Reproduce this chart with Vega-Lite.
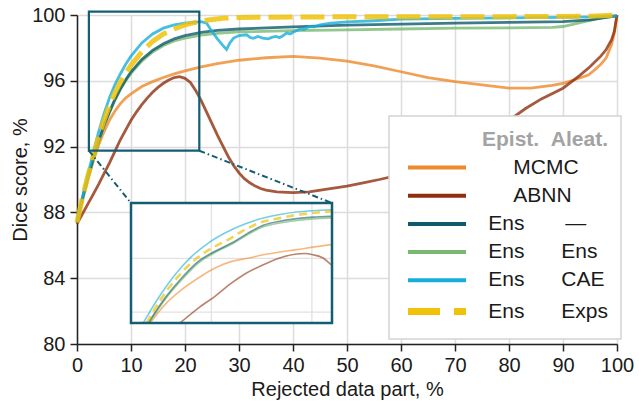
{
  "$schema": "https://vega.github.io/schema/vega-lite/v6.json",
  "width": 540,
  "height": 329,
  "autosize": "none",
  "padding": {"left": 77, "top": 15, "right": 22, "bottom": 62},
  "background": "white",
  "datasets": {
    "main": [
      {"s":"MCMC","x":0,"y":87.3},{"s":"MCMC","x":1,"y":88.7},{"s":"MCMC","x":2,"y":90.0},{"s":"MCMC","x":3,"y":91.1},{"s":"MCMC","x":4,"y":92.1},{"s":"MCMC","x":5,"y":92.9},{"s":"MCMC","x":6,"y":93.6},{"s":"MCMC","x":7,"y":94.15},{"s":"MCMC","x":8,"y":94.6},{"s":"MCMC","x":9,"y":94.95},{"s":"MCMC","x":10,"y":95.2},{"s":"MCMC","x":12,"y":95.65},{"s":"MCMC","x":14,"y":95.95},{"s":"MCMC","x":16,"y":96.2},{"s":"MCMC","x":18,"y":96.42},{"s":"MCMC","x":20,"y":96.6},{"s":"MCMC","x":23,"y":96.85},{"s":"MCMC","x":26,"y":97.05},{"s":"MCMC","x":30,"y":97.25},{"s":"MCMC","x":35,"y":97.4},{"s":"MCMC","x":40,"y":97.48},{"s":"MCMC","x":45,"y":97.38},{"s":"MCMC","x":50,"y":97.2},{"s":"MCMC","x":55,"y":96.9},{"s":"MCMC","x":60,"y":96.55},{"s":"MCMC","x":65,"y":96.2},{"s":"MCMC","x":70,"y":95.95},{"s":"MCMC","x":75,"y":95.75},{"s":"MCMC","x":80,"y":95.55},{"s":"MCMC","x":84,"y":95.55},{"s":"MCMC","x":88,"y":95.72},{"s":"MCMC","x":90,"y":95.85},{"s":"MCMC","x":92,"y":96.05},{"s":"MCMC","x":94.7,"y":96.35},{"s":"MCMC","x":96,"y":96.7},{"s":"MCMC","x":97,"y":97.0},{"s":"MCMC","x":98,"y":97.4},{"s":"MCMC","x":99,"y":98.2},{"s":"MCMC","x":99.5,"y":98.9},{"s":"MCMC","x":100,"y":100},
      {"s":"ABNN","x":0,"y":87.3},{"s":"ABNN","x":1,"y":87.9},{"s":"ABNN","x":2,"y":88.5},{"s":"ABNN","x":3,"y":89.1},{"s":"ABNN","x":4,"y":89.7},{"s":"ABNN","x":5,"y":90.35},{"s":"ABNN","x":6,"y":91.0},{"s":"ABNN","x":7,"y":91.7},{"s":"ABNN","x":8,"y":92.4},{"s":"ABNN","x":9,"y":93.0},{"s":"ABNN","x":10,"y":93.6},{"s":"ABNN","x":11,"y":94.1},{"s":"ABNN","x":12,"y":94.55},{"s":"ABNN","x":13,"y":94.95},{"s":"ABNN","x":14,"y":95.3},{"s":"ABNN","x":15,"y":95.6},{"s":"ABNN","x":16,"y":95.85},{"s":"ABNN","x":17,"y":96.05},{"s":"ABNN","x":18,"y":96.2},{"s":"ABNN","x":19,"y":96.25},{"s":"ABNN","x":20,"y":96.15},{"s":"ABNN","x":21,"y":95.9},{"s":"ABNN","x":22,"y":95.4},{"s":"ABNN","x":23,"y":94.8},{"s":"ABNN","x":24,"y":94.1},{"s":"ABNN","x":25,"y":93.4},{"s":"ABNN","x":26,"y":92.7},{"s":"ABNN","x":27,"y":92.05},{"s":"ABNN","x":28,"y":91.4},{"s":"ABNN","x":29,"y":90.85},{"s":"ABNN","x":30,"y":90.4},{"s":"ABNN","x":31,"y":90.05},{"s":"ABNN","x":32,"y":89.8},{"s":"ABNN","x":33,"y":89.6},{"s":"ABNN","x":34,"y":89.45},{"s":"ABNN","x":35,"y":89.35},{"s":"ABNN","x":37,"y":89.25},{"s":"ABNN","x":40,"y":89.2},{"s":"ABNN","x":43,"y":89.25},{"s":"ABNN","x":46,"y":89.4},{"s":"ABNN","x":50,"y":89.6},{"s":"ABNN","x":53,"y":89.8},{"s":"ABNN","x":56,"y":90.0},{"s":"ABNN","x":60,"y":90.3},{"s":"ABNN","x":65,"y":90.8},{"s":"ABNN","x":70,"y":91.5},{"s":"ABNN","x":75,"y":92.4},{"s":"ABNN","x":80,"y":93.6},{"s":"ABNN","x":83,"y":94.3},{"s":"ABNN","x":86,"y":94.9},{"s":"ABNN","x":90,"y":95.55},{"s":"ABNN","x":93,"y":96.3},{"s":"ABNN","x":95,"y":96.85},{"s":"ABNN","x":97,"y":97.5},{"s":"ABNN","x":98,"y":97.9},{"s":"ABNN","x":99,"y":98.5},{"s":"ABNN","x":99.5,"y":99.0},{"s":"ABNN","x":100,"y":100},
      {"s":"Ens Ens","x":0,"y":87.4},{"s":"Ens Ens","x":1,"y":88.8},{"s":"Ens Ens","x":2,"y":90.05},{"s":"Ens Ens","x":3,"y":91.2},{"s":"Ens Ens","x":4,"y":92.3},{"s":"Ens Ens","x":5,"y":93.25},{"s":"Ens Ens","x":6,"y":94.05},{"s":"Ens Ens","x":7,"y":94.8},{"s":"Ens Ens","x":8,"y":95.45},{"s":"Ens Ens","x":9,"y":96.0},{"s":"Ens Ens","x":10,"y":96.45},{"s":"Ens Ens","x":12,"y":97.2},{"s":"Ens Ens","x":14,"y":97.75},{"s":"Ens Ens","x":16,"y":98.15},{"s":"Ens Ens","x":18,"y":98.42},{"s":"Ens Ens","x":20,"y":98.6},{"s":"Ens Ens","x":23,"y":98.78},{"s":"Ens Ens","x":26,"y":98.88},{"s":"Ens Ens","x":30,"y":98.97},{"s":"Ens Ens","x":40,"y":99.05},{"s":"Ens Ens","x":50,"y":99.1},{"s":"Ens Ens","x":60,"y":99.15},{"s":"Ens Ens","x":70,"y":99.2},{"s":"Ens Ens","x":80,"y":99.22},{"s":"Ens Ens","x":88,"y":99.25},{"s":"Ens Ens","x":90,"y":99.3},{"s":"Ens Ens","x":92,"y":99.45},{"s":"Ens Ens","x":94,"y":99.6},{"s":"Ens Ens","x":96,"y":99.75},{"s":"Ens Ens","x":98,"y":99.88},{"s":"Ens Ens","x":100,"y":99.95},
      {"s":"Ens —","x":0,"y":87.4},{"s":"Ens —","x":1,"y":88.85},{"s":"Ens —","x":2,"y":90.1},{"s":"Ens —","x":3,"y":91.25},{"s":"Ens —","x":4,"y":92.35},{"s":"Ens —","x":5,"y":93.3},{"s":"Ens —","x":6,"y":94.1},{"s":"Ens —","x":7,"y":94.85},{"s":"Ens —","x":8,"y":95.5},{"s":"Ens —","x":9,"y":96.05},{"s":"Ens —","x":10,"y":96.55},{"s":"Ens —","x":12,"y":97.3},{"s":"Ens —","x":14,"y":97.85},{"s":"Ens —","x":16,"y":98.25},{"s":"Ens —","x":18,"y":98.55},{"s":"Ens —","x":20,"y":98.75},{"s":"Ens —","x":23,"y":98.95},{"s":"Ens —","x":26,"y":99.07},{"s":"Ens —","x":30,"y":99.15},{"s":"Ens —","x":40,"y":99.28},{"s":"Ens —","x":50,"y":99.38},{"s":"Ens —","x":60,"y":99.45},{"s":"Ens —","x":70,"y":99.5},{"s":"Ens —","x":80,"y":99.55},{"s":"Ens —","x":90,"y":99.6},{"s":"Ens —","x":95,"y":99.7},{"s":"Ens —","x":100,"y":99.95},
      {"s":"Ens CAE","x":0,"y":87.4},{"s":"Ens CAE","x":1,"y":88.9},{"s":"Ens CAE","x":2,"y":90.3},{"s":"Ens CAE","x":3,"y":91.6},{"s":"Ens CAE","x":4,"y":92.9},{"s":"Ens CAE","x":5,"y":94.0},{"s":"Ens CAE","x":6,"y":94.95},{"s":"Ens CAE","x":7,"y":95.75},{"s":"Ens CAE","x":8,"y":96.4},{"s":"Ens CAE","x":9,"y":97.0},{"s":"Ens CAE","x":10,"y":97.5},{"s":"Ens CAE","x":12,"y":98.3},{"s":"Ens CAE","x":14,"y":98.85},{"s":"Ens CAE","x":16,"y":99.2},{"s":"Ens CAE","x":18,"y":99.4},{"s":"Ens CAE","x":20,"y":99.5},{"s":"Ens CAE","x":22,"y":99.57},{"s":"Ens CAE","x":23,"y":99.6},{"s":"Ens CAE","x":24,"y":99.5},{"s":"Ens CAE","x":25,"y":99.0},{"s":"Ens CAE","x":26,"y":98.55},{"s":"Ens CAE","x":27,"y":98.15},{"s":"Ens CAE","x":27.7,"y":97.9},{"s":"Ens CAE","x":28.3,"y":98.3},{"s":"Ens CAE","x":29,"y":98.6},{"s":"Ens CAE","x":30,"y":98.75},{"s":"Ens CAE","x":31.4,"y":98.8},{"s":"Ens CAE","x":32,"y":98.65},{"s":"Ens CAE","x":32.6,"y":98.58},{"s":"Ens CAE","x":33.5,"y":98.7},{"s":"Ens CAE","x":34.4,"y":98.6},{"s":"Ens CAE","x":35.4,"y":98.55},{"s":"Ens CAE","x":36.2,"y":98.65},{"s":"Ens CAE","x":36.9,"y":98.7},{"s":"Ens CAE","x":37.5,"y":98.62},{"s":"Ens CAE","x":38.2,"y":98.75},{"s":"Ens CAE","x":38.8,"y":98.9},{"s":"Ens CAE","x":39.5,"y":98.85},{"s":"Ens CAE","x":40,"y":98.95},{"s":"Ens CAE","x":41.3,"y":99.15},{"s":"Ens CAE","x":42,"y":99.12},{"s":"Ens CAE","x":43,"y":99.3},{"s":"Ens CAE","x":44,"y":99.28},{"s":"Ens CAE","x":45,"y":99.4},{"s":"Ens CAE","x":47,"y":99.5},{"s":"Ens CAE","x":50,"y":99.58},{"s":"Ens CAE","x":55,"y":99.65},{"s":"Ens CAE","x":60,"y":99.75},{"s":"Ens CAE","x":70,"y":99.8},{"s":"Ens CAE","x":80,"y":99.83},{"s":"Ens CAE","x":90,"y":99.85},{"s":"Ens CAE","x":95,"y":99.88},{"s":"Ens CAE","x":100,"y":99.95},
      {"s":"Ens Exps","x":0,"y":87.4},{"s":"Ens Exps","x":1,"y":88.9},{"s":"Ens Exps","x":2,"y":90.2},{"s":"Ens Exps","x":3,"y":91.4},{"s":"Ens Exps","x":4,"y":92.6},{"s":"Ens Exps","x":5,"y":93.6},{"s":"Ens Exps","x":6,"y":94.5},{"s":"Ens Exps","x":7,"y":95.25},{"s":"Ens Exps","x":8,"y":95.9},{"s":"Ens Exps","x":9,"y":96.45},{"s":"Ens Exps","x":10,"y":96.95},{"s":"Ens Exps","x":12,"y":97.75},{"s":"Ens Exps","x":14,"y":98.4},{"s":"Ens Exps","x":16,"y":98.85},{"s":"Ens Exps","x":18,"y":99.15},{"s":"Ens Exps","x":20,"y":99.4},{"s":"Ens Exps","x":22,"y":99.55},{"s":"Ens Exps","x":24,"y":99.68},{"s":"Ens Exps","x":27,"y":99.8},{"s":"Ens Exps","x":30,"y":99.85},{"s":"Ens Exps","x":40,"y":99.88},{"s":"Ens Exps","x":60,"y":99.9},{"s":"Ens Exps","x":80,"y":99.9},{"s":"Ens Exps","x":95,"y":99.92},{"s":"Ens Exps","x":100,"y":100}
    ],
    "inset": [
      {"s":"MCMC","x":3.89,"y":91.2},{"s":"MCMC","x":5.38,"y":92.56},{"s":"MCMC","x":7.04,"y":93.67},{"s":"MCMC","x":8.7,"y":94.54},{"s":"MCMC","x":10.36,"y":95.28},{"s":"MCMC","x":12.02,"y":95.77},{"s":"MCMC","x":13.6,"y":96.0},{"s":"MCMC","x":15.16,"y":96.26},{"s":"MCMC","x":16.8,"y":96.46},{"s":"MCMC","x":18.5,"y":96.64},{"s":"MCMC","x":20.1,"y":96.83},{"s":"MCMC","x":21.9,"y":97.01},
      {"s":"ABNN","x":6.88,"y":91.2},{"s":"ABNN","x":8.7,"y":92.31},{"s":"ABNN","x":10.36,"y":93.18},{"s":"ABNN","x":12.02,"y":94.17},{"s":"ABNN","x":13.5,"y":94.91},{"s":"ABNN","x":15.16,"y":95.52},{"s":"ABNN","x":16.8,"y":96.02},{"s":"ABNN","x":18.5,"y":96.32},{"s":"ABNN","x":19.3,"y":96.35},{"s":"ABNN","x":20.1,"y":96.26},{"s":"ABNN","x":21.1,"y":96.02},{"s":"ABNN","x":21.9,"y":95.52},
      {"s":"Ens Ens","x":3.8,"y":91.2},{"s":"Ens Ens","x":5.45,"y":93.0},{"s":"Ens Ens","x":7.1,"y":94.45},{"s":"Ens Ens","x":8.75,"y":95.68},{"s":"Ens Ens","x":10.4,"y":96.45},{"s":"Ens Ens","x":12.05,"y":97.05},{"s":"Ens Ens","x":13.6,"y":97.75},{"s":"Ens Ens","x":15.16,"y":98.33},{"s":"Ens Ens","x":16.8,"y":98.62},{"s":"Ens Ens","x":18.5,"y":98.8},{"s":"Ens Ens","x":20.1,"y":98.92},{"s":"Ens Ens","x":21.9,"y":99.0},
      {"s":"Ens —","x":3.72,"y":91.2},{"s":"Ens —","x":5.38,"y":93.05},{"s":"Ens —","x":7.04,"y":94.54},{"s":"Ens —","x":8.7,"y":95.77},{"s":"Ens —","x":10.36,"y":96.52},{"s":"Ens —","x":12.02,"y":97.13},{"s":"Ens —","x":13.6,"y":97.85},{"s":"Ens —","x":15.16,"y":98.45},{"s":"Ens —","x":16.8,"y":98.75},{"s":"Ens —","x":18.5,"y":98.94},{"s":"Ens —","x":20.1,"y":99.05},{"s":"Ens —","x":21.9,"y":99.12},
      {"s":"Ens CAE","x":3.22,"y":91.2},{"s":"Ens CAE","x":4.72,"y":93.05},{"s":"Ens CAE","x":6.38,"y":94.78},{"s":"Ens CAE","x":8.04,"y":96.14},{"s":"Ens CAE","x":9.69,"y":97.13},{"s":"Ens CAE","x":11.35,"y":97.87},{"s":"Ens CAE","x":13.2,"y":98.5},{"s":"Ens CAE","x":15.16,"y":98.99},{"s":"Ens CAE","x":16.8,"y":99.25},{"s":"Ens CAE","x":18.5,"y":99.43},{"s":"Ens CAE","x":20.1,"y":99.53},{"s":"Ens CAE","x":21.9,"y":99.6},
      {"s":"Ens Exps","x":3.56,"y":91.2},{"s":"Ens Exps","x":5.05,"y":93.05},{"s":"Ens Exps","x":6.7,"y":94.66},{"s":"Ens Exps","x":8.37,"y":95.9},{"s":"Ens Exps","x":10.03,"y":96.76},{"s":"Ens Exps","x":11.68,"y":97.38},{"s":"Ens Exps","x":13.4,"y":98.15},{"s":"Ens Exps","x":15.16,"y":98.72},{"s":"Ens Exps","x":16.8,"y":98.98},{"s":"Ens Exps","x":18.5,"y":99.22},{"s":"Ens Exps","x":20.1,"y":99.36},{"s":"Ens Exps","x":21.9,"y":99.48}
    ]
  },
  "layer": [
    {
      "data": {"name": "main"},
      "encoding": {
        "x": {"field": "x", "type": "quantitative",
              "scale": {"domain": [0, 100], "nice": false, "zero": false},
              "axis": {"title": "Rejected data part, %", "values": [0,10,20,30,40,50,60,70,80,90,100], "labelFlush": false, "labelPadding": 4, "titlePadding": 4}},
        "y": {"field": "y", "type": "quantitative",
              "scale": {"domain": [80, 100], "nice": false, "zero": false},
              "axis": {"title": "Dice score, %", "values": [80,84,88,92,96,100], "labelPadding": 5, "titlePadding": 1}}
      },
      "layer": [
        {"transform": [{"filter": "datum.s === 'MCMC'"}],
         "mark": {"type": "line", "strokeWidth": 2.8, "opacity": 0.8},
         "encoding": {"color": {"field": "s", "type": "nominal",
           "scale": {"domain": ["MCMC","ABNN","Ens —","Ens Ens","Ens CAE","Ens Exps"], "range": ["#ee8a2b","#8f2f0e","#0d5a6e","#79b96f","#17aedb","#f0c20a"]},
           "legend": {
             "orient": "none", "legendX": 312, "legendY": 101,
             "title": "Epist.\u00a0\u00a0Aleat.",
             "titleFont": "Liberation Sans", "titleFontSize": 21, "titleFontWeight": "bold", "titleColor": "#a3a3a3",
             "titleAnchor": "end", "titlePadding": 7,
             "labelFont": "Liberation Sans", "labelFontSize": 21, "labelColor": "#1a1a1a", "labelOffset": 65.3, "labelLimit": 400,
             "labelExpr": "datum.value === 'MCMC' ? 'MCMC' : datum.value === 'ABNN' ? 'ABNN' : datum.value === 'Ens —' ? 'Ens\u00a0\u00a0\u00a0\u00a0\u00a0\u00a0\u00a0—' : datum.value === 'Ens Ens' ? 'Ens\u00a0\u00a0\u00a0\u00a0\u00a0\u00a0\u200aEns' : datum.value === 'Ens CAE' ? 'Ens\u00a0\u00a0\u00a0\u00a0\u00a0\u00a0\u200aCAE' : 'Ens\u00a0\u00a0\u00a0\u00a0\u00a0\u00a0\u200aExps'",
             "symbolType": "M-4.5,0H53.5", "symbolSize": 4, "symbolStrokeWidth": 4, "symbolOpacity": 1,
             "rowPadding": 6.2, "padding": 13,
             "fillColor": "white", "strokeColor": "#d4d4d4",
             "encode": {
               "symbols": {"update": {
                 "strokeDash": {"signal": "datum.value === 'Ens Exps' ? [32, 14] : [1, 0]"},
                 "strokeWidth": {"signal": "datum.value === 'Ens Exps' ? 7 : 4"},
                 "opacity": {"value": 1}}},
               "labels": {"update": {
                 "dx": {"signal": "datum.value === 'MCMC' || datum.value === 'ABNN' ? 25 : 0"}}},
               "legend": {"update": {"strokeWidth": {"value": 1.5}}}
             }
           }}}},
        {"transform": [{"filter": "datum.s === 'ABNN'"}],
         "mark": {"type": "line", "strokeWidth": 2.8, "opacity": 0.8},
         "encoding": {"color": {"field": "s", "type": "nominal"}}},
        {"transform": [{"filter": "datum.s === 'Ens Ens'"}],
         "mark": {"type": "line", "strokeWidth": 2.8, "opacity": 0.8},
         "encoding": {"color": {"field": "s", "type": "nominal"}}},
        {"transform": [{"filter": "datum.s === 'Ens —'"}],
         "mark": {"type": "line", "strokeWidth": 2.8, "opacity": 0.8},
         "encoding": {"color": {"field": "s", "type": "nominal"}}},
        {"transform": [{"filter": "datum.s === 'Ens CAE'"}],
         "mark": {"type": "line", "strokeWidth": 2.8, "opacity": 0.8},
         "encoding": {"color": {"field": "s", "type": "nominal"}}},
        {"transform": [{"filter": "datum.s === 'Ens Exps'"}],
         "mark": {"type": "line", "strokeWidth": 5, "opacity": 0.85, "strokeDash": [24, 8]},
         "encoding": {"color": {"field": "s", "type": "nominal"}}},
        {"data": {"values": [{"x": 2.2, "x2": 22.65, "y": 91.75, "y2": 100.2}]},
         "mark": {"type": "rect", "filled": false, "stroke": "#135e72", "strokeWidth": 2.2},
         "encoding": {"x2": {"field": "x2"}, "y2": {"field": "y2"}}},
        {"data": {"values": [{"x": 2.2, "x2": 10.0, "y": 91.75, "y2": 88.57}, {"x": 22.65, "x2": 47.22, "y": 91.75, "y2": 88.57}]},
         "mark": {"type": "rule", "stroke": "#135e72", "strokeWidth": 2, "strokeDash": [6, 3, 1.5, 3]},
         "encoding": {"x2": {"field": "x2"}, "y2": {"field": "y2"}}}
      ]
    },
    {
      "encoding": {
        "x": {"field": "x", "type": "quantitative", "scale": {"domain": [2, 22], "range": [54, 255], "nice": false, "zero": false}, "axis": null},
        "y": {"field": "y", "type": "quantitative", "scale": {"domain": [91.2, 100.1], "range": [308, 188], "nice": false, "zero": false}, "axis": null}
      },
      "layer": [
        {"data": {"values": [{"x": 2, "x2": 22, "y": 91.2, "y2": 100.1}]},
         "mark": {"type": "rect", "fill": "white"},
         "encoding": {"x2": {"field": "x2"}, "y2": {"field": "y2"}}},
        {"data": {"values": [{"x": 10, "y": 91.2, "y2": 100.1}, {"x": 20, "y": 91.2, "y2": 100.1}]},
         "mark": {"type": "rule", "stroke": "#e2e2e2", "strokeWidth": 1.3},
         "encoding": {"y2": {"field": "y2"}}},
        {"data": {"values": [{"x": 2, "x2": 22, "y": 92}, {"x": 2, "x2": 22, "y": 96}]},
         "mark": {"type": "rule", "stroke": "#e2e2e2", "strokeWidth": 1.3},
         "encoding": {"x2": {"field": "x2"}}},
        {"data": {"name": "inset"}, "transform": [{"filter": "datum.s === 'MCMC'"}],
         "mark": {"type": "line", "stroke": "#ee8a2b", "strokeWidth": 1.6, "opacity": 0.6, "interpolate": "monotone"}, "encoding": {}},
        {"data": {"name": "inset"}, "transform": [{"filter": "datum.s === 'ABNN'"}],
         "mark": {"type": "line", "stroke": "#8f2f0e", "strokeWidth": 1.6, "opacity": 0.6, "interpolate": "monotone"}, "encoding": {}},
        {"data": {"name": "inset"}, "transform": [{"filter": "datum.s === 'Ens Ens'"}],
         "mark": {"type": "line", "stroke": "#79b96f", "strokeWidth": 1.6, "opacity": 0.7, "interpolate": "monotone"}, "encoding": {}},
        {"data": {"name": "inset"}, "transform": [{"filter": "datum.s === 'Ens —'"}],
         "mark": {"type": "line", "stroke": "#0d5a6e", "strokeWidth": 1.6, "opacity": 0.6, "interpolate": "monotone"}, "encoding": {}},
        {"data": {"name": "inset"}, "transform": [{"filter": "datum.s === 'Ens CAE'"}],
         "mark": {"type": "line", "stroke": "#17aedb", "strokeWidth": 1.6, "opacity": 0.6, "interpolate": "monotone"}, "encoding": {}},
        {"data": {"name": "inset"}, "transform": [{"filter": "datum.s === 'Ens Exps'"}],
         "mark": {"type": "line", "stroke": "#f0c20a", "strokeWidth": 2.6, "opacity": 0.7, "strokeDash": [8, 5], "interpolate": "monotone"}, "encoding": {}},
        {"data": {"values": [{"x": 2, "x2": 22, "y": 91.2, "y2": 100.1}]},
         "mark": {"type": "rect", "filled": false, "stroke": "#135e72", "strokeWidth": 2.5},
         "encoding": {"x2": {"field": "x2"}, "y2": {"field": "y2"}}}
      ]
    }
  ],
  "resolve": {"scale": {"x": "independent", "y": "independent"}},
  "config": {
    "view": {"stroke": null},
    "font": "Liberation Sans",
    "axis": {
      "labelFont": "Liberation Sans", "titleFont": "Liberation Sans",
      "labelFontSize": 20, "titleFontSize": 20, "titleFontWeight": "normal",
      "labelColor": "#1a1a1a", "titleColor": "#1a1a1a",
      "domainColor": "#222222", "domainWidth": 1.5,
      "tickColor": "#222222", "tickWidth": 1.5, "tickSize": 7,
      "grid": true, "gridColor": "#dcdcdc", "gridWidth": 1.5
    }
  }
}
